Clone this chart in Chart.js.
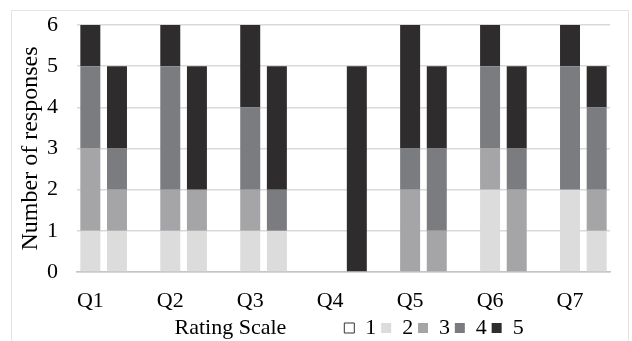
<!DOCTYPE html>
<html>
<head>
<meta charset="utf-8">
<script src="https://cdn.jsdelivr.net/npm/chart.js@4"></script>
<style>
    html, body { margin: 0; padding: 0; background: #fff; }
    #wrap { position: relative; width: 632px; height: 341px; }
    #frame { position: absolute; left: 11px; top: 10px; width: 618px; height: 340px; border: 1px solid #e4e4e4; box-sizing: border-box; }
    canvas { position: absolute; left: 0; top: 0; }
</style>
</head>
<body>
<div id="wrap">
    <div id="frame"></div>
    <canvas id="ratingChart" width="632" height="341"></canvas>
</div>
<script>
// two bars per question: [Q1a, Q1b, Q2a, Q2b, ... Q7a, Q7b]
const questions = ['Q1', 'Q2', 'Q3', 'Q4', 'Q5', 'Q6', 'Q7'];
const ratingLabels = ['1', '2', '3', '4', '5'];
const rating1 = [0, 0, 0, 0, 0, 0, 0, 0, 0, 0, 0, 0, 0, 0];
const rating2 = [1, 1, 1, 1, 1, 1, 0, 0, 0, 0, 2, 0, 2, 1];
const rating3 = [2, 1, 1, 1, 1, 0, 0, 0, 2, 1, 1, 2, 0, 1];
const rating4 = [2, 1, 3, 0, 2, 1, 0, 0, 1, 2, 2, 1, 3, 2];
const rating5 = [1, 2, 1, 3, 2, 3, 0, 5, 3, 2, 1, 2, 1, 1];
const yTicks = [0, 1, 2, 3, 4, 5, 6];

const ratingColors = ['#ffffff', '#dcdcdc', '#a5a4a6', '#7b7c7f', '#2e2c2d'];
const FONT = "'Liberation Serif', 'Times New Roman', serif";

// slots: bar a, bar b, empty gap after every question except the last
const labels = [];
questions.forEach((q, i) => {
    labels.push(q, '');
    if (i < questions.length - 1) labels.push('');
});

function toSlots(values) {
    const out = [];
    questions.forEach((q, i) => {
        out.push(values[i * 2], values[i * 2 + 1]);
        if (i < questions.length - 1) out.push(null);
    });
    return out;
}

const series = [rating1, rating2, rating3, rating4, rating5];
const datasets = series.map((vals, i) => ({
    label: ratingLabels[i],
    data: toSlots(vals),
    backgroundColor: ratingColors[i],
    borderWidth: 0,
    barPercentage: 0.75,
    categoryPercentage: 1.0
}));

const ctx = document.getElementById('ratingChart').getContext('2d');
const chart = new Chart(ctx, {
    type: 'bar',
    data: { labels: labels, datasets: datasets },
    options: {
        responsive: false,
        animation: false,
        events: [],
        layout: { padding: { left: 14, right: 22, top: 25, bottom: -8 } },
        plugins: {
            tooltip: { enabled: false },
            legend: {
                position: 'bottom',
                labels: {
                    color: '#000',
                    font: { family: FONT, size: 22, lineHeight: 1 },
                    boxWidth: 10,
                    boxHeight: 10,
                    padding: 3,
                    generateLabels: (c) => {
                        // "Rating Scale" sits on the same row, before the boxes
                        const pad = (n) => ' '.repeat(n);
                        const items = [{
                            text: pad(10) + 'Rating Scale' + pad(10),
                            fillStyle: 'rgba(0,0,0,0)',
                            strokeStyle: 'rgba(0,0,0,0)',
                            lineWidth: 0,
                            hidden: false,
                            datasetIndex: -1
                        }];
                        c.data.datasets.forEach((ds, i) => {
                            items.push({
                                text: ds.label + '\u200a',
                                fillStyle: ds.backgroundColor,
                                strokeStyle: i === 0 ? '#333' : ds.backgroundColor,
                                lineWidth: i === 0 ? 1 : 0,
                                hidden: false,
                                datasetIndex: i
                            });
                        });
                        return items;
                    }
                }
            }
        },
        scales: {
            x: {
                stacked: true,
                grid: { display: false },
                border: { color: '#c4c4c4', width: 1.5 },
                ticks: {
                    color: '#000',
                    font: { family: FONT, size: 22 },
                    autoSkip: false,
                    maxRotation: 0,
                    padding: 8
                },
                afterFit: (scale) => { scale.height = 42; }
            },
            y: {
                stacked: true,
                min: 0,
                max: 6,
                afterBuildTicks: (scale) => { scale.ticks = yTicks.map(v => ({ value: v })); },
                grid: { color: '#d9d9d9', lineWidth: 1.5, drawTicks: false },
                border: { display: false },
                ticks: {
                    color: '#000',
                    font: { family: FONT, size: 22, lineHeight: 0.5 },
                    padding: 19
                },
                title: {
                    display: true,
                    text: 'Number of responses',
                    color: '#000',
                    font: { family: FONT, size: 24 },
                    padding: { top: 2, bottom: 0 }
                },
                afterFit: (scale) => { scale.width = 63; }
            }
        }
    }
});
</script>
</body>
</html>
